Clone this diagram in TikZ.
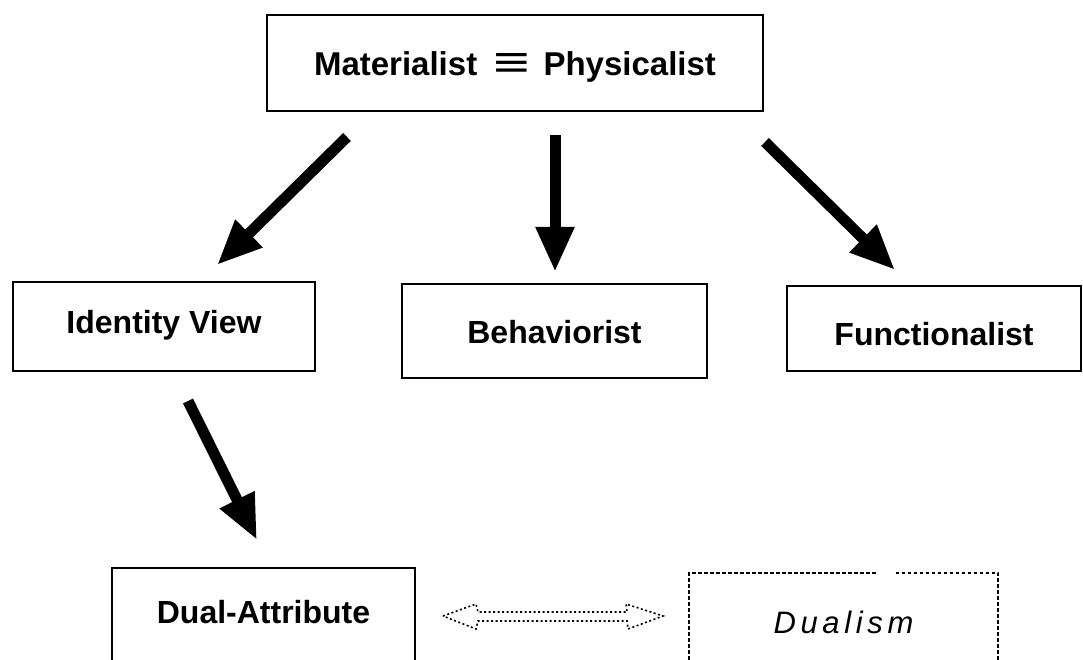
\documentclass[tikz,border=0pt]{standalone}
\usepackage{fontspec}
\usepackage{graphicx}
\setmainfont{Liberation Sans}
\newfontfamily\spacedsans[LetterSpace=15]{Liberation Sans}
\usetikzlibrary{arrows.meta}
\begin{document}
\begin{tikzpicture}[x=1pt,y=-1pt,
  box/.style={draw, line width=1.8pt, anchor=north, inner sep=0pt,
    font=\bfseries\fontsize{32}{36}\selectfont},
  bigarrow/.style={line width=11pt, -{Triangle[length=45pt,width=36pt]}},
  dotline/.style={line width=1.6pt, dash pattern=on 2pt off 2.5pt},
  dashline/.style={line width=1.6pt, dash pattern=on 3.5pt off 2.5pt}
]
\clip (0,0) rectangle (1083,660);

% boxes
\node[box, minimum width=496pt, text height=61pt, text depth=35pt,
      font=\bfseries\fontsize{33}{36}\selectfont] (mat) at (515,14)
      {Materialist\hspace{0.5em}\raisebox{-0.05em}{\scalebox{1.9}[1.35]{≡}}\hspace{0.4em}Physicalist};
\node[box, minimum width=302pt, text height=52pt, text depth=37pt] (ident) at (164,281) {Identity View};
\node[box, minimum width=305pt, text height=60pt, text depth=34pt] (behav) at (554.5,283) {Behaviorist};
\node[box, minimum width=294pt, text height=60pt, text depth=25pt] (funct) at (934,285) {Functionalist};
\node[box, minimum width=303pt, text height=56pt, text depth=70pt] (dual) at (263.5,567) {Dual-Attribute};
\node[anchor=north, inner sep=0pt, minimum width=309pt, text height=60pt, text depth=60pt,
      font=\spacedsans\itshape\fontsize{31}{36}\selectfont] (dualism) at (843.5,573) {Dualism};

% dashed frame of the Dualism box, open at the top right
\draw[dashline] ([xshift=32pt]dualism.north) -- (dualism.north west) -- (dualism.south west);
\draw[dashline] ([xshift=52pt]dualism.north) -- (dualism.north east) -- (dualism.south east);

% thick arrows
\coordinate (a1) at (347,137); \coordinate (b1) at (217,265);
\coordinate (a2) at (555,135); \coordinate (b2) at (555,272);
\coordinate (a3) at (765,142); \coordinate (b3) at (895,270);
\coordinate (a4) at (188,401); \coordinate (b4) at (257,540);
\draw[bigarrow] (a1) -- (b1);
\draw[bigarrow] (a2) -- (b2);
\draw[bigarrow] (a3) -- (b3);
\draw[bigarrow] (a4) -- (b4);

% hollow dotted double arrow between the two bottom boxes
\coordinate (la) at (443,616);
\draw[dotline] (la) -- ++(33,-12) -- ++(2,8) -- ++(149,0) -- ++(-1,-8)
  -- ++(37,12) coordinate (ra) -- ++(-35,13) -- ++(-1,-8) -- ++(-149,0)
  -- ++(-2,8) -- cycle;
\end{tikzpicture}
\end{document}
